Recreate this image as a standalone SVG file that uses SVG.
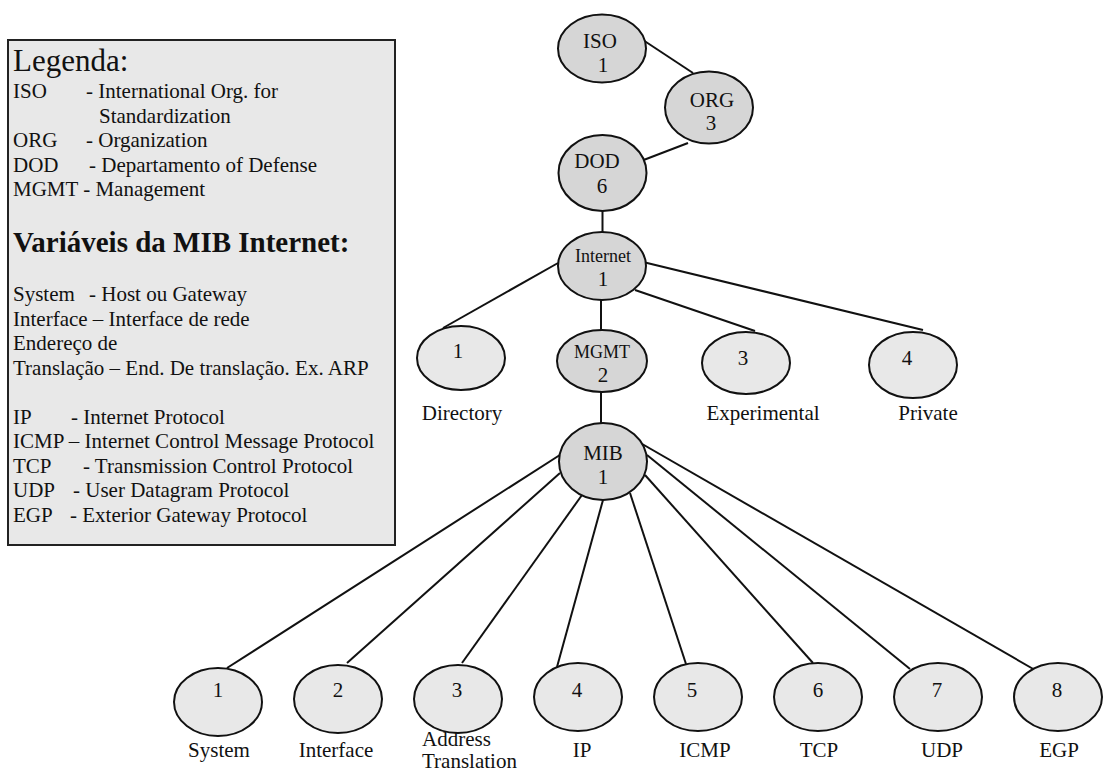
<svg xmlns="http://www.w3.org/2000/svg" width="1103" height="771" viewBox="0 0 1103 771">
<style>
text{font-family:"Liberation Serif","Times New Roman",serif;fill:#111;}
.t{font-size:21px;}
.s{font-size:18px;}
.m{text-anchor:middle;}
.dk{fill:#d6d6d6;stroke:#111;stroke-width:2;}
.lt{fill:#e8e8e8;stroke:#111;stroke-width:2;}
.ln{stroke:#111;stroke-width:2;fill:none;}
</style>
<rect width="1103" height="771" fill="#fff"/>
<g id="legend">
<rect x="8" y="40" width="387" height="505" fill="#e8e8e8" stroke="#222" stroke-width="2"/>
<text x="13" y="71" style="font-size:31px">Legenda:</text>
<text class="t" y="98"><tspan x="13">ISO</tspan><tspan x="86">- International Org. for</tspan></text>
<text class="t" x="99" y="122.5">Standardization</text>
<text class="t" y="147"><tspan x="13">ORG</tspan><tspan x="86">- Organization</tspan></text>
<text class="t" y="171.5"><tspan x="13">DOD</tspan><tspan x="89">- Departamento of Defense</tspan></text>
<text class="t" x="13" y="196">MGMT - Management</text>
<text x="13" y="252" style="font-size:29px;font-weight:bold">Variáveis da MIB Internet:</text>
<text class="t" y="301"><tspan x="13">System</tspan><tspan x="89">- Host ou Gateway</tspan></text>
<text class="t" x="13" y="325.5">Interface – Interface de rede</text>
<text class="t" x="13" y="350">Endereço de</text>
<text class="t" x="13" y="374.5">Translação – End. De translação. Ex. ARP</text>
<text class="t" y="423.5"><tspan x="13">IP</tspan><tspan x="71">- Internet Protocol</tspan></text>
<text class="t" x="13" y="448">ICMP – Internet Control Message Protocol</text>
<text class="t" y="472.5"><tspan x="13">TCP</tspan><tspan x="83">- Transmission Control Protocol</tspan></text>
<text class="t" y="497"><tspan x="13">UDP</tspan><tspan x="73">- User Datagram Protocol</tspan></text>
<text class="t" y="521.5"><tspan x="13">EGP</tspan><tspan x="70">- Exterior Gateway Protocol</tspan></text>
</g>
<g id="connectors">
<line class="ln" x1="643" y1="40" x2="693" y2="73"/>
<line class="ln" x1="688" y1="143" x2="641" y2="161"/>
<line class="ln" x1="602.5" y1="211" x2="602.5" y2="233"/>
<line class="ln" x1="558" y1="263" x2="443" y2="328"/>
<line class="ln" x1="601" y1="300" x2="601" y2="330"/>
<line class="ln" x1="635" y1="290" x2="755" y2="331"/>
<line class="ln" x1="643" y1="262" x2="923" y2="330"/>
<line class="ln" x1="601" y1="392" x2="601" y2="423"/>
<line class="ln" x1="563" y1="453" x2="227" y2="668"/>
<line class="ln" x1="560" y1="473" x2="347" y2="663"/>
<line class="ln" x1="582" y1="495" x2="462" y2="663"/>
<line class="ln" x1="603" y1="500" x2="557" y2="667"/>
<line class="ln" x1="630" y1="493" x2="686" y2="664"/>
<line class="ln" x1="645" y1="475" x2="813" y2="663"/>
<line class="ln" x1="647" y1="455" x2="910" y2="669"/>
<line class="ln" x1="630" y1="437" x2="1035" y2="670"/>
</g>
<g id="iso"><ellipse class="dk" cx="602" cy="48.5" rx="44" ry="34"/><text class="t m" x="600" y="48">ISO</text><text class="t m" x="603" y="72">1</text></g>
<g id="org"><ellipse class="dk" cx="709" cy="107.5" rx="44" ry="36"/><text class="t m" x="712" y="107">ORG</text><text class="t m" x="711" y="130">3</text></g>
<g id="dod"><ellipse class="dk" cx="602.5" cy="173" rx="44" ry="38"/><text class="t m" x="597" y="168">DOD</text><text class="t m" x="602" y="193">6</text></g>
<g id="internet"><ellipse class="dk" cx="602" cy="266" rx="44" ry="34"/><text class="s m" x="603" y="262">Internet</text><text class="t m" x="603" y="286">1</text></g>
<g id="directory"><ellipse class="lt" cx="461" cy="358" rx="44" ry="32"/><text class="t m" x="458" y="358">1</text><text class="t m" x="462" y="420">Directory</text></g>
<g id="mgmt"><ellipse class="dk" cx="602" cy="361" rx="45" ry="31"/><text class="s m" x="602" y="358">MGMT</text><text class="t m" x="603" y="382">2</text></g>
<g id="experimental"><ellipse class="lt" cx="746" cy="363" rx="44" ry="31"/><text class="t m" x="743" y="365">3</text><text class="t m" x="763" y="420">Experimental</text></g>
<g id="private"><ellipse class="lt" cx="913" cy="365" rx="44" ry="33"/><text class="t m" x="907" y="365">4</text><text class="t m" x="928" y="420">Private</text></g>
<g id="mib"><ellipse class="dk" cx="603" cy="461.5" rx="44" ry="38.5"/><text class="t m" x="603" y="460">MIB</text><text class="t m" x="603" y="484">1</text></g>
<g id="system"><ellipse class="lt" cx="218" cy="702" rx="44" ry="34"/><text class="t m" x="218" y="697">1</text><text class="t m" x="219" y="757">System</text></g>
<g id="interface"><ellipse class="lt" cx="338" cy="699" rx="44" ry="34"/><text class="t m" x="338" y="697">2</text><text class="t m" x="336" y="757">Interface</text></g>
<g id="address"><ellipse class="lt" cx="458" cy="699" rx="44" ry="34"/><text class="t m" x="457" y="697">3</text><text class="t" x="422" y="746">Address</text><text class="t" x="422" y="768">Translation</text></g>
<g id="ip"><ellipse class="lt" cx="578" cy="697" rx="44" ry="34"/><text class="t m" x="577" y="697">4</text><text class="t m" x="582" y="757">IP</text></g>
<g id="icmp"><ellipse class="lt" cx="698" cy="697" rx="44" ry="34"/><text class="t m" x="692" y="697">5</text><text class="t m" x="705" y="757">ICMP</text></g>
<g id="tcp"><ellipse class="lt" cx="818" cy="697" rx="44" ry="34"/><text class="t m" x="818" y="697">6</text><text class="t m" x="819" y="757">TCP</text></g>
<g id="udp"><ellipse class="lt" cx="938" cy="697" rx="44" ry="34"/><text class="t m" x="937" y="697">7</text><text class="t m" x="942" y="757">UDP</text></g>
<g id="egp"><ellipse class="lt" cx="1058" cy="697" rx="44" ry="34"/><text class="t m" x="1057" y="697">8</text><text class="t m" x="1059" y="757">EGP</text></g>
</svg>
